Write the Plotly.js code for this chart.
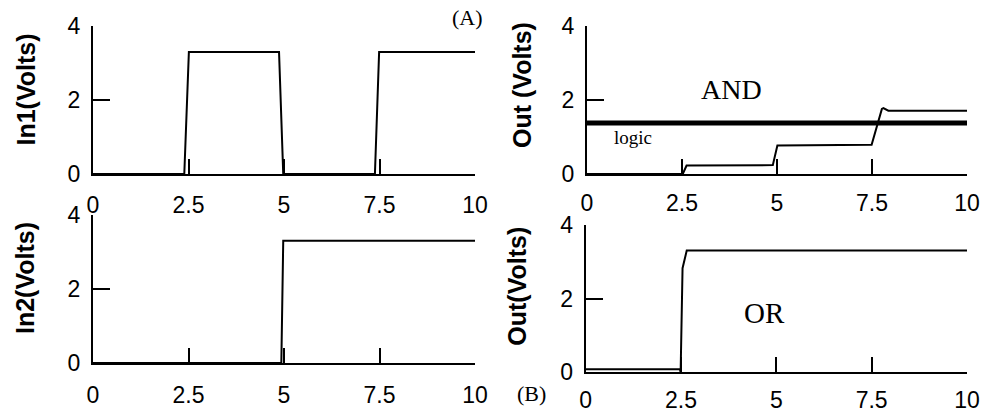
<!DOCTYPE html>
<html>
<head>
<meta charset="utf-8">
<script src="https://cdn.plot.ly/plotly-3.0.1.min.js"></script>
<style>html,body{margin:0;padding:0;background:#fff;}#chart{width:989px;height:414px;}</style>
</head>
<body>
<div id="chart"></div>
<script>
// ---- data ----
const xTicks = [0, 2.5, 5, 7.5, 10];
const xTickText = ['0', '2.5', '5', '7.5', '10'];
const yTicks = [0, 2, 4];
const yTickText = ['0', '2', '4'];

const in1T = [0, 2.39, 2.51, 4.87, 4.98, 7.38, 7.49, 10];
const in1V = [0, 0, 3.3, 3.3, 0, 0, 3.3, 3.3];

const in2T = [0, 4.93, 4.98, 10];
const in2V = [0, 0, 3.3, 3.3];

const andT = [0, 2.52, 2.62, 4.89, 5.01, 7.49, 7.76, 7.8, 7.93, 10];
const andV = [0, 0, 0.23, 0.24, 0.77, 0.79, 1.76, 1.78, 1.71, 1.71];

const logicT = [0, 10];
const logicV = [1.38, 1.38];

const orT = [0, 2.47, 2.49, 2.54, 2.65, 10];
const orV = [0.08, 0.08, 0, 2.82, 3.3, 3.3];

// ---- layout helpers ----
const W = 989, H = 414;
const px = v => v / W;
const py = v => 1 - v / H;
const sans = 'Liberation Sans, Arial, sans-serif';
const serif = 'Liberation Serif, Times New Roman, serif';

function xa(x0, x1, anchor, standoff) {
  return {
    domain: [px(x0), px(x1)], anchor: anchor, range: [0, 10],
    showline: true, linewidth: 2, linecolor: '#000',
    ticks: 'inside', ticklen: 15, tickwidth: 2, tickcolor: '#000',
    tickvals: xTicks, ticktext: xTickText,
    showgrid: false, zeroline: false, fixedrange: true,
    ticklabelstandoff: standoff,
    tickfont: {family: sans, size: 23, color: '#000'}
  };
}
function ya(yTop, yBot, anchor) {
  return {
    domain: [py(yBot), py(yTop)], anchor: anchor, range: [0, 4],
    showline: true, linewidth: 2, linecolor: '#000',
    ticks: 'inside', ticklen: 17, tickwidth: 2, tickcolor: '#000',
    tickvals: yTicks, ticktext: yTickText,
    showgrid: false, zeroline: false, fixedrange: true,
    ticklabelstandoff: 6,
    tickfont: {family: sans, size: 23, color: '#000'}
  };
}

const lineStyle = {color: '#000', width: 2};
const traces = [
  {x: in1T, y: in1V, xaxis: 'x', yaxis: 'y', mode: 'lines', line: lineStyle},
  {x: logicT, y: logicV, xaxis: 'x2', yaxis: 'y2', mode: 'lines', line: {color: '#000', width: 5}},
  {x: andT, y: andV, xaxis: 'x2', yaxis: 'y2', mode: 'lines', line: lineStyle},
  {x: in2T, y: in2V, xaxis: 'x3', yaxis: 'y3', mode: 'lines', line: lineStyle},
  {x: orT, y: orV, xaxis: 'x4', yaxis: 'y4', mode: 'lines', line: lineStyle}
];

function ann(text, x, y, font, angle) {
  return {text: text, xref: 'paper', yref: 'paper', x: px(x), y: py(y),
    xanchor: 'center', yanchor: 'middle', showarrow: false,
    textangle: angle || 0, font: font};
}
const titleFont = {family: sans, size: 25, color: '#000', weight: 'bold'};
const serifFont = s => ({family: serif, size: s, color: '#000'});

const layout = {
  width: W, height: H,
  margin: {l: 0, r: 0, t: 0, b: 0},
  paper_bgcolor: '#fff', plot_bgcolor: '#fff',
  showlegend: false,
  xaxis: xa(93, 475, 'y', 9),
  yaxis: ya(26, 174, 'x'),
  xaxis2: xa(587, 967, 'y2', 7),
  yaxis2: ya(26, 174, 'x2'),
  xaxis3: xa(93, 475, 'y3', 10),
  yaxis3: ya(214.7, 363, 'x3'),
  xaxis4: xa(585.7, 967, 'y4', 6),
  yaxis4: ya(224.7, 372.3, 'x4'),
  annotations: [
    ann('In1(Volts)', 26, 89.5, titleFont, -90),
    ann('Out (Volts)', 522, 85, titleFont, -90),
    ann('In2(Volts)', 25, 278, titleFont, -90),
    ann('Out(Volts)', 517, 286.7, titleFont, -90),
    ann('(A)', 467, 18, serifFont(22)),
    ann('(B)', 531, 393, serifFont(22)),
    ann('AND', 731, 89, serifFont(28)),
    ann('logic', 632.5, 138, serifFont(19)),
    ann('OR', 764, 313, serifFont(29))
  ]
};

Plotly.newPlot('chart', traces, layout, {displayModeBar: false, staticPlot: true});
</script>
</body>
</html>
